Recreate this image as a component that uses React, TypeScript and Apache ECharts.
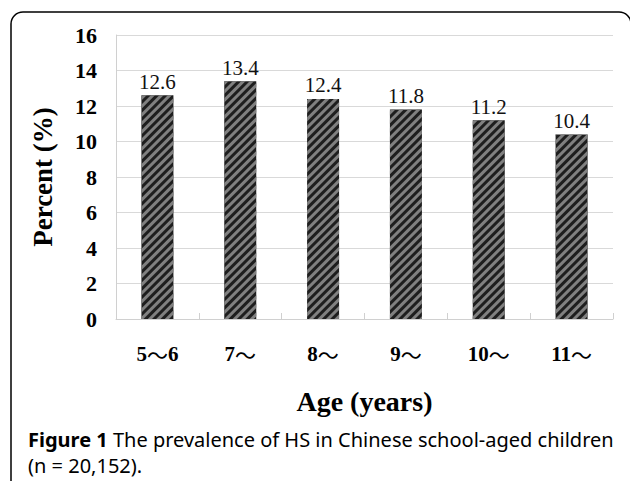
import React, { useEffect, useRef } from "react";
import * as echarts from "echarts";

const categories = ["5～6", "7～", "8～", "9～", "10～", "11～"];
const values = [12.6, 13.4, 12.4, 11.8, 11.2, 10.4];
const yTicks = [0, 2, 4, 6, 8, 10, 12, 14, 16];
const yAxisTitle = "Percent (%)";
const xAxisTitle = "Age (years)";
const captionBold = "Figure 1";
const captionRest = " The prevalence of HS in Chinese school-aged children";
const captionLine2 = "(n = 20,152).";

const SERIF = "'Liberation Serif', 'Times New Roman', serif";
const SANS = "'Noto Sans', 'Open Sans', sans-serif";
const CJK = "'Noto Sans CJK SC', 'Noto Sans CJK JP', sans-serif";

export default function App() {
  const ref = useRef<HTMLDivElement>(null);
  useEffect(() => {
    if (!ref.current) return;
    const chart = echarts.init(ref.current, undefined, { renderer: "svg" });
    chart.setOption({
      animation: false,
      backgroundColor: "#ffffff",
      grid: { left: 116, right: 17, top: 35, bottom: 162, containLabel: false },
      xAxis: {
        type: "category",
        data: categories,
        name: xAxisTitle,
        nameLocation: "middle",
        nameGap: 68,
        nameTextStyle: { fontFamily: SERIF, fontWeight: "bold", fontSize: 28, color: "#000", verticalAlign: "top" },
        axisLine: { show: true, lineStyle: { color: "#d0d0d0", width: 1 } },
        axisTick: { show: true, inside: true, length: 6, lineStyle: { color: "#d0d0d0" } },
        axisLabel: {
          interval: 0,
          hideOverlap: false,
          fontFamily: SERIF,
          fontWeight: "bold",
          fontSize: 21,
          color: "#000",
          margin: 24,
          formatter: (v: string) =>
            v
              .split("～")
              .map((s) => (s ? `{n|${s}}` : ""))
              .join("{t|～}"),
          rich: {
            n: { fontFamily: SERIF, fontWeight: "bold", fontSize: 21, color: "#000" },
            t: { fontFamily: CJK, fontWeight: "normal", fontSize: 21, color: "#000" },
          },
        },
      },
      yAxis: {
        type: "value",
        min: yTicks[0],
        max: yTicks[yTicks.length - 1],
        interval: 2,
        name: yAxisTitle,
        nameLocation: "middle",
        nameGap: 60,
        nameRotate: 90,
        nameTextStyle: { fontFamily: SERIF, fontWeight: "bold", fontSize: 27, color: "#000" },
        axisLine: { show: true, lineStyle: { color: "#d0d0d0" } },
        axisTick: { show: false },
        splitLine: { show: true, lineStyle: { color: "#d9d9d9", width: 1 } },
        axisLabel: { fontFamily: SERIF, fontWeight: "bold", fontSize: 22, color: "#000", margin: 19 },
      },
      series: [
        {
          type: "bar",
          data: values,
          barWidth: 32,
          itemStyle: {
            color: "#1e1e1e",
            decal: {
              symbol: "rect",
              symbolSize: 1,
              dashArrayX: [1, 0],
              dashArrayY: [3, 3],
              rotation: -Math.PI / 4,
              color: "#808080",
            },
          },
          label: {
            show: true,
            position: "top",
            distance: 3,
            fontFamily: SERIF,
            fontSize: 21,
            color: "#111",
            formatter: (p: any) => p.value.toFixed(1),
          },
        },
      ],
      graphic: [
        {
          type: "rect",
          shape: { x: 11, y: 12, width: 620, height: 500, r: 12 },
          style: { fill: "none", stroke: "#000", lineWidth: 1.5 },
          silent: true,
          z: 100,
        },
        {
          type: "text",
          left: 28,
          top: 429,
          style: {
            text: `{b|${captionBold}}{r|${captionRest}}`,
            rich: {
              b: { fontFamily: SANS, fontWeight: "bold", fontSize: 20, lineHeight: 20, fill: "#000" },
              r: { fontFamily: SANS, fontSize: 20, lineHeight: 20, fill: "#000" },
            },
          },
        },
        {
          type: "text",
          left: 28,
          top: 455,
          style: { text: captionLine2, fontFamily: SANS, fontSize: 20, lineHeight: 20, fill: "#000" },
        },
      ],
    });
    return () => chart.dispose();
  }, []);
  return <div ref={ref} style={{ width: 630, height: 481, position: "absolute", left: 0, top: 0 }} />;
}
